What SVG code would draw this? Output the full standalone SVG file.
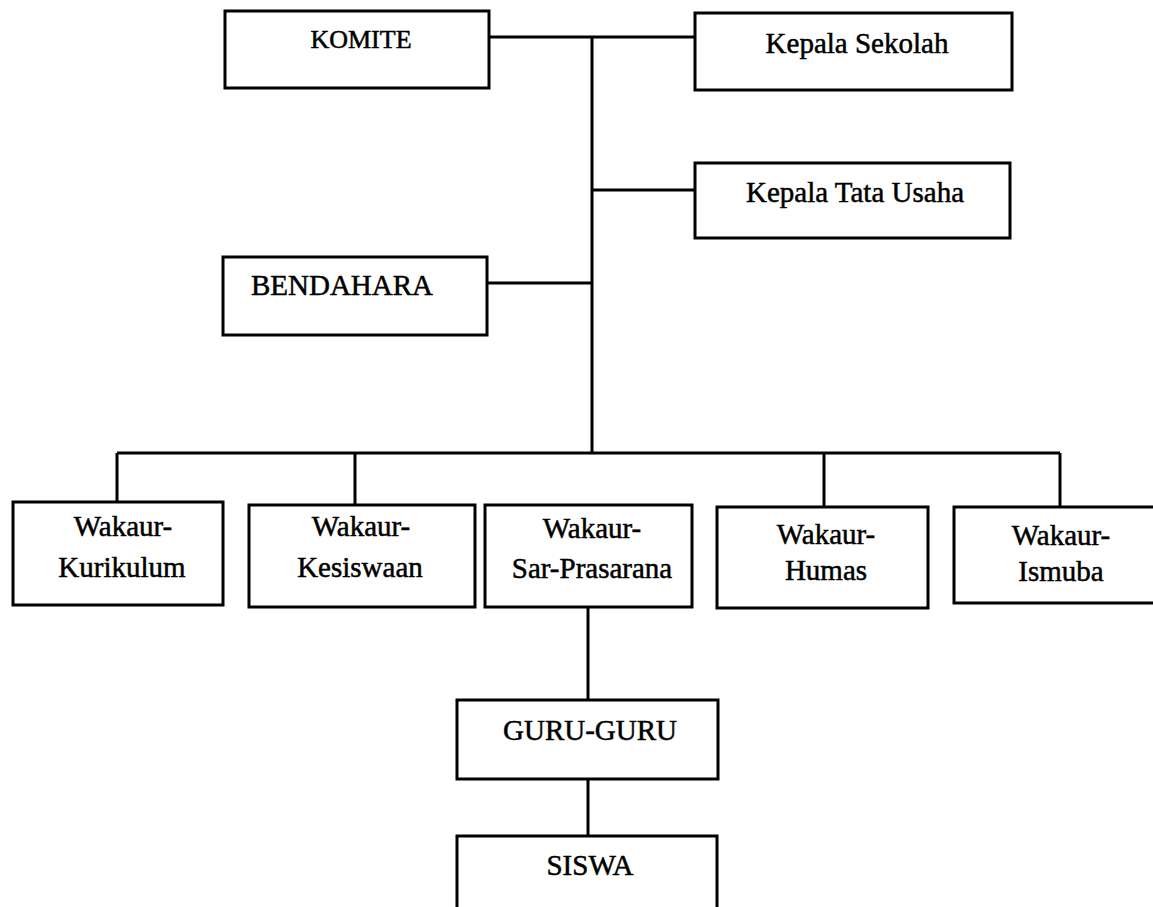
<svg xmlns="http://www.w3.org/2000/svg" width="1153" height="907" viewBox="0 0 1153 907">
<style>
.box{fill:#fff;stroke:#000;stroke-width:3}
.t{font-family:"Liberation Serif","Times New Roman",serif;font-size:29px;fill:#000;stroke:#000;stroke-width:0.5;text-anchor:middle}
.c{stroke:#000;stroke-width:3;fill:none}
</style>
<rect width="1153" height="907" fill="#fff"/>
<g id="connectors">
<line class="c" x1="489" y1="37" x2="695" y2="37"/>
<line class="c" x1="592" y1="37" x2="592" y2="453"/>
<line class="c" x1="592" y1="190" x2="695" y2="190"/>
<line class="c" x1="487" y1="283" x2="592" y2="283"/>
<line class="c" x1="117" y1="453" x2="1060" y2="453"/>
<line class="c" x1="117" y1="453" x2="117" y2="502"/>
<line class="c" x1="355" y1="453" x2="355" y2="505"/>
<line class="c" x1="824" y1="453" x2="824" y2="507"/>
<line class="c" x1="1060" y1="453" x2="1060" y2="507"/>
<line class="c" x1="588" y1="607" x2="588" y2="700"/>
<line class="c" x1="588" y1="779" x2="588" y2="836"/>
</g>
<g id="komite"><rect class="box" x="225" y="11" width="264" height="77"/><text class="t" x="361" y="48" style="font-size:26px">KOMITE</text></g>
<g id="kepala-sekolah"><rect class="box" x="695" y="13" width="317" height="77"/><text class="t" x="857" y="53">Kepala Sekolah</text></g>
<g id="kepala-tu"><rect class="box" x="695" y="163" width="315" height="75"/><text class="t" x="855" y="202">Kepala Tata Usaha</text></g>
<g id="bendahara"><rect class="box" x="223" y="257" width="264" height="78"/><text class="t" x="342" y="295">BENDAHARA</text></g>
<g id="kurikulum"><rect class="box" x="13" y="502" width="210" height="103"/><text class="t" x="123" y="536">Wakaur-</text><text class="t" x="122" y="577">Kurikulum</text></g>
<g id="kesiswaan"><rect class="box" x="249" y="505" width="226" height="102"/><text class="t" x="361" y="536">Wakaur-</text><text class="t" x="360" y="577">Kesiswaan</text></g>
<g id="sarpras"><rect class="box" x="485" y="505" width="207" height="102"/><text class="t" x="592" y="538">Wakaur-</text><text class="t" x="592" y="578">Sar-Prasarana</text></g>
<g id="humas"><rect class="box" x="717" y="507" width="211" height="101"/><text class="t" x="826" y="544">Wakaur-</text><text class="t" x="826" y="580">Humas</text></g>
<g id="ismuba"><rect class="box" x="954" y="507" width="210" height="96"/><text class="t" x="1061" y="545">Wakaur-</text><text class="t" x="1061" y="581">Ismuba</text></g>
<g id="guru"><rect class="box" x="457" y="700" width="261" height="79"/><text class="t" x="590" y="740">GURU-GURU</text></g>
<g id="siswa"><rect class="box" x="457" y="836" width="260" height="90"/><text class="t" x="590" y="875">SISWA</text></g>
</svg>
